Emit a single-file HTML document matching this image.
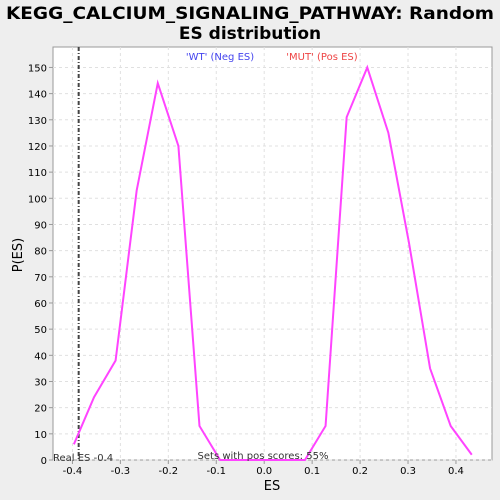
<!DOCTYPE html>
<html><head><meta charset="utf-8"><style>
html,body{margin:0;padding:0;background:#eeeeee;overflow:hidden;font-family:"DejaVu Sans","Liberation Sans",sans-serif}
svg{display:block}
</style></head><body>
<svg width="500" height="500" xmlns="http://www.w3.org/2000/svg">
<rect x="0" y="0" width="500" height="500" fill="#eeeeee"/>
<text x="250" y="19" text-anchor="middle" font-size="17" font-weight="bold" fill="#000" textLength="488" lengthAdjust="spacingAndGlyphs">KEGG_CALCIUM_SIGNALING_PATHWAY: Random</text>
<text x="250" y="39" text-anchor="middle" font-size="17" font-weight="bold" fill="#000">ES distribution</text>
<rect x="53" y="47" width="439" height="413" fill="#fff" stroke="#999"/>
<g id="grid"></g><g id="axes"></g><g id="marks"></g>
<text x="220" y="60" text-anchor="middle" font-size="10" fill="#4444ee">'WT' (Neg ES)</text>
<text x="322" y="60" text-anchor="middle" font-size="10" fill="#ee4444">'MUT' (Pos ES)</text>
<text x="272" y="490" text-anchor="middle" font-size="13">ES</text>
<text x="22" y="255" text-anchor="middle" font-size="13" transform="rotate(-90 22 255)">P(ES)</text>
<text x="263" y="459" text-anchor="middle" font-size="10" fill="#333">Sets with pos scores: 55%</text>
<text x="53" y="461" font-size="10" fill="#333">Real ES -0.4</text>
</svg>
<script>
const esValues=[-0.397,-0.355,-0.31,-0.266,-0.222,-0.179,-0.135,-0.092,0.085,0.128,0.172,0.215,0.259,0.302,0.346,0.389,0.433];
const density=[6,24,38,103,144,120,13,0,0,13,131,150,125,83,35,13,2];
const xTicks=[-0.4,-0.3,-0.2,-0.1,0.0,0.1,0.2,0.3,0.4];
const yTicks=[0,10,20,30,40,50,60,70,80,90,100,110,120,130,140,150];
const realES=-0.387;
const NS="http://www.w3.org/2000/svg";
const X=v=>264.2+v*479.4, Y=v=>460-v*2.617;
function mk(t,a,p){const e=document.createElementNS(NS,t);for(const k in a)e.setAttribute(k,a[k]);document.getElementById(p).appendChild(e);return e;}
xTicks.forEach(t=>{
 const g=mk('line',{x1:X(t),x2:X(t),y1:47,y2:460,stroke:'#e0e0e0','stroke-dasharray':'3,3'},'grid');
 
 
 const l=mk('line',{x1:X(t),x2:X(t),y1:460,y2:464,stroke:'#999'},'axes');
 
 
 const tx=mk('text',{x:X(t),y:474,'text-anchor':'middle','font-size':'10'},'axes');
 tx.textContent=t.toFixed(1);
 
 
});
yTicks.forEach(t=>{
 const g=mk('line',{x1:53,x2:492,y1:Y(t),y2:Y(t),stroke:'#e0e0e0','stroke-dasharray':'3,3'},'grid');
 
 
 const l=mk('line',{x1:49,x2:53,y1:Y(t),y2:Y(t),stroke:'#999'},'axes');
 
 
 const tx=mk('text',{x:47,y:Y(t)+4,'text-anchor':'end','font-size':'10'},'axes');
 tx.textContent=t;
 
 
});
const rl=mk('line',{x1:X(realES),x2:X(realES),y1:47,y2:460,stroke:'#444','stroke-width':2,'stroke-dasharray':'4,2,1,2'},'marks');


const pl=mk('polyline',{points:esValues.map((v,i)=>X(v)+','+Y(density[i])).join(' '),fill:'none',stroke:'#ff44ff','stroke-width':2},'marks');


</script>
</body></html>
